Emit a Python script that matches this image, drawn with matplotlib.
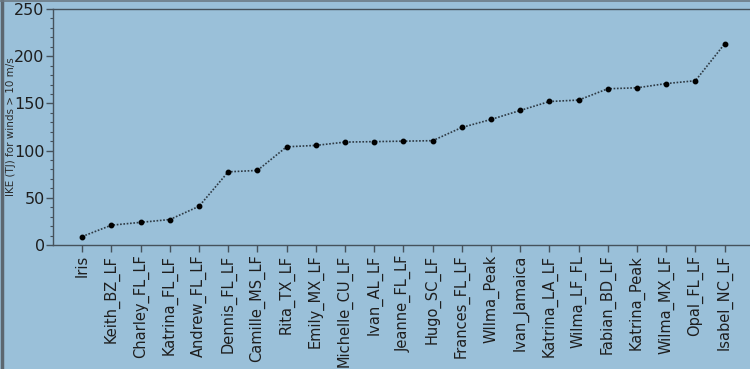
import matplotlib.pyplot as plt
from matplotlib.ticker import MultipleLocator
from matplotlib.lines import Line2D

# storm events, sorted by IKE
storms = ['Iris', 'Keith_BZ_LF', 'Charley_FL_LF', 'Katrina_FL_LF', 'Andrew_FL_LF',
          'Dennis_FL_LF', 'Camille_MS_LF', 'Rita_TX_LF', 'Emily_MX_LF',
          'Michelle_CU_LF', 'Ivan_AL_LF', 'Jeanne_FL_LF', 'Hugo_SC_LF',
          'Frances_FL_LF', 'WIlma_Peak', 'Ivan_Jamaica', 'Katrina_LA_LF',
          'Wilma_LF_FL', 'Fabian_BD_LF', 'Katrina_Peak', 'Wilma_MX_LF',
          'Opal_FL_LF', 'Isabel_NC_LF']
ike = [9, 21, 24, 27, 41, 77.5, 79, 104, 105.5, 109, 109.5, 110, 110.5,
       124.5, 133, 142.5, 152, 153.5, 165.5, 166.5, 171, 174, 213]

bg = '#9ac0d9'
edge = '#45525c'

fig = plt.figure(figsize=(7.5, 3.69), dpi=100, facecolor=bg)
ax = fig.add_axes([0.0707, 0.336, 0.9293, 0.6397])
ax.set_facecolor(bg)

x = list(range(len(storms)))
ax.plot(x, ike, linestyle=(0, (1, 1)), color='#2e3a44', linewidth=1.2,
        marker='o', markersize=3.2, markerfacecolor='black', markeredgecolor='black')

ax.set_xlim(-1, 22.87)
ax.set_ylim(0, 250)
ax.set_xticks(x)
ax.set_xticklabels(storms, rotation=90, fontsize=10.5, color='#1e1e1e')
ax.yaxis.set_major_locator(MultipleLocator(50))
ax.yaxis.set_minor_locator(MultipleLocator(10))
ax.tick_params(axis='y', which='major', labelsize=11.5, length=5, width=1,
               color=edge, labelcolor='#1e1e1e', pad=1)
ax.tick_params(axis='y', which='minor', length=2.5, width=0.8, color=edge)
ax.tick_params(axis='x', length=5, width=1, color=edge, pad=2)
ax.set_ylabel('IKE (TJ) for winds > 10 m/s', fontsize=7.5, color='#2a2a2a')
ax.yaxis.set_label_coords(-0.0525, 0.5)

for side in ['left', 'bottom', 'top']:
    ax.spines[side].set_color(edge)
    ax.spines[side].set_linewidth(1)
ax.spines['right'].set_visible(False)

# outer frame of the screenshot (left and top)
fig.add_artist(Line2D([0.002, 0.002], [0, 1], transform=fig.transFigure,
                      color='#5c6770', linewidth=2.5))
fig.add_artist(Line2D([0, 1], [0.998, 0.998], transform=fig.transFigure,
                      color='#6c7a84', linewidth=1.2))

fig.savefig('out.png', dpi=100, facecolor=bg)
